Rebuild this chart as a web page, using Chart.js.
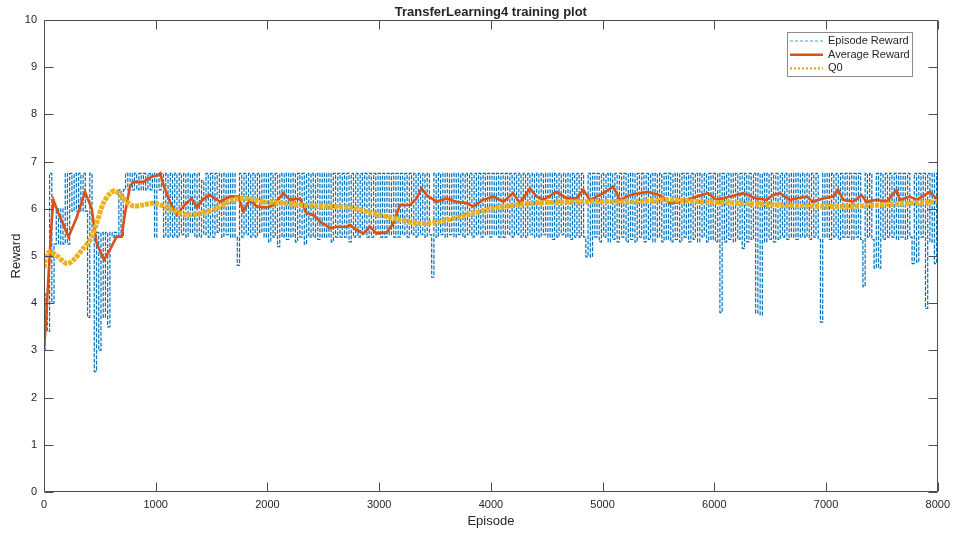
<!DOCTYPE html>
<html>
<head>
<meta charset="utf-8">
<script src="https://cdn.jsdelivr.net/npm/chart.js@4.4.1/dist/chart.umd.min.js"></script>
<style>
  html, body { margin: 0; padding: 0; background: #fff; }
</style>
</head>
<body>
<canvas id="chart" width="956" height="534"></canvas>
<script>
const chartTitle = 'TransferLearning4 training plot'
const xTitle = 'Episode'
const yTitle = 'Reward'
const seriesNames = ['Episode Reward', 'Average Reward', 'Q0']
const xTicks = [0, 1000, 2000, 3000, 4000, 5000, 6000, 7000, 8000]
const yTicks = [0, 1, 2, 3, 4, 5, 6, 7, 8, 9, 10]

// episode reward, one reading every 20 episodes (rows of 400 episodes)
const episodeStep = 20
const episodeReward = [
  3.0, 4.2, 3.4, 6.75, 4.0, 5.25, 6.0, 5.25, 6.0, 5.25, 6.75, 5.25, 6.75, 5.95, 6.75, 5.95, 6.75, 5.95, 6.75, 5.95,
  3.7, 6.75, 5.4, 2.55, 5.5, 3.0, 5.5, 3.7, 5.5, 3.5, 5.5, 5.4, 5.5, 5.4, 6.4, 5.4, 6.4, 6.75, 6.4, 6.75,
  6.4, 6.75, 6.4, 6.75, 6.4, 6.75, 6.4, 6.75, 6.4, 6.75, 5.4, 6.75, 6.4, 6.75, 5.4, 6.75, 5.4, 6.75, 5.4, 6.75,
  5.4, 6.75, 5.45, 6.75, 5.4, 6.75, 5.5, 6.75, 5.4, 6.75, 5.4, 6.6, 5.45, 6.75, 5.4, 6.75, 5.4, 6.75, 5.5, 6.75,
  5.4, 6.75, 5.45, 6.75, 5.4, 6.75, 5.4, 4.8, 6.75, 5.4, 6.75, 5.45, 6.75, 5.4, 6.75, 5.4, 6.75, 5.5, 6.75, 5.4,
  6.75, 5.3, 6.75, 5.4, 6.75, 5.2, 6.75, 5.4, 6.75, 5.35, 6.75, 5.4, 6.75, 5.3, 6.75, 5.4, 6.75, 5.25, 6.75, 5.4,
  6.75, 5.4, 6.75, 5.35, 6.75, 5.4, 6.75, 5.4, 6.75, 5.3, 6.75, 5.4, 6.75, 5.4, 6.75, 5.4, 6.75, 5.3, 6.75, 5.4,
  6.75, 5.4, 6.75, 5.45, 6.75, 5.4, 6.75, 5.4, 6.75, 5.45, 6.75, 5.4, 6.75, 5.4, 6.75, 5.45, 6.75, 5.4, 6.75, 5.4,
  6.75, 5.45, 6.75, 5.4, 6.75, 5.45, 6.75, 5.4, 6.75, 5.45, 6.75, 5.4, 6.75, 5.45, 4.55, 6.75, 5.4, 6.75, 5.45, 6.75,
  5.4, 6.75, 5.45, 6.75, 5.4, 6.75, 5.45, 6.75, 5.4, 6.75, 5.45, 6.75, 5.4, 6.75, 5.45, 6.75, 5.4, 6.75, 5.45, 6.75,
  5.4, 6.75, 5.45, 6.75, 5.4, 6.75, 5.4, 6.75, 5.45, 6.75, 5.4, 6.75, 5.45, 6.75, 5.4, 6.75, 5.4, 6.75, 5.45, 6.75,
  5.4, 6.75, 5.4, 6.75, 5.45, 6.75, 5.4, 6.75, 5.35, 6.75, 5.4, 6.75, 5.45, 6.75, 5.4, 6.75, 5.35, 6.75, 5.4, 6.75,
  5.4, 6.75, 5.4, 4.98, 6.75, 4.98, 6.75, 5.4, 6.75, 5.3, 6.75, 5.4, 6.75, 5.3, 6.75, 5.35, 6.75, 5.3, 6.75, 5.4,
  6.75, 5.3, 6.75, 5.35, 6.75, 5.3, 6.75, 5.4, 6.75, 5.3, 6.75, 5.35, 6.75, 5.3, 6.75, 5.4, 6.75, 5.3, 6.75, 5.35,
  6.75, 5.3, 6.75, 5.35, 6.75, 5.3, 6.75, 5.4, 6.75, 5.3, 6.75, 5.35, 6.75, 5.3, 6.75, 5.4, 6.75, 5.3, 6.75, 5.35,
  6.75, 5.3, 6.75, 3.8, 6.75, 5.3, 6.75, 5.35, 6.75, 5.3, 6.75, 5.35, 6.75, 5.16, 6.75, 5.3, 6.75, 5.35, 6.75, 3.79,
  6.75, 3.75, 6.75, 5.3, 6.75, 5.35, 6.75, 5.3, 6.75, 5.35, 6.75, 5.4, 6.75, 5.35, 6.75, 5.4, 6.75, 5.35, 6.75, 5.4,
  6.75, 5.4, 6.75, 5.35, 6.75, 5.4, 6.75, 5.35, 3.6, 6.75, 5.4, 6.75, 5.35, 6.75, 5.4, 6.75, 5.35, 6.75, 5.4, 6.75,
  5.4, 6.75, 5.35, 6.75, 5.4, 6.75, 5.35, 4.35, 6.75, 5.4, 6.75, 5.35, 4.74, 6.75, 4.74, 6.75, 5.35, 6.75, 5.4, 6.75,
  5.4, 6.75, 5.35, 6.75, 5.4, 6.75, 5.35, 6.75, 5.4, 4.84, 6.75, 4.87, 6.75, 5.4, 6.75, 3.89, 6.75, 5.3, 6.75, 4.84,
  6.75
]

const avgEpisodes = [
  0, 15, 48, 69, 85, 130, 220, 290, 367, 427, 471, 537, 590, 650, 695, 725, 770, 800, 890, 964,
  1010, 1040, 1070, 1127, 1187, 1247, 1321, 1367, 1420, 1485, 1575, 1664, 1739, 1784, 1843, 1903, 1993, 2053, 2142, 2202,
  2291, 2351, 2410, 2470, 2559, 2619, 2709, 2739, 2798, 2858, 2918, 2977, 3067, 3126, 3186, 3275, 3335, 3380, 3425, 3514,
  3603, 3693, 3782, 3842, 3931, 4021, 4111, 4200, 4260, 4349, 4409, 4469, 4588, 4677, 4767, 4827, 4886, 4976, 5095, 5155,
  5245, 5393, 5513, 5602, 5721, 5840, 5944, 6019, 6139, 6258, 6377, 6467, 6526, 6586, 6676, 6825, 6884, 6974, 7064, 7108,
  7153, 7243, 7317, 7362, 7452, 7541, 7631, 7660, 7750, 7810, 7929, 7988, 8000
]
const avgReward = [
  3.05, 3.5, 4.9, 5.75, 6.18, 5.9, 5.41, 5.8, 6.36, 6.0, 5.27, 4.92, 5.13, 5.41, 5.41, 5.9, 6.47, 6.57, 6.57, 6.68,
  6.7, 6.75, 6.5, 6.15, 5.87, 6.05, 6.22, 6.03, 6.2, 6.29, 6.15, 6.26, 6.26, 5.94, 6.19, 6.05, 6.03, 6.08, 6.33, 6.19,
  6.22, 5.9, 5.87, 5.73, 5.59, 5.62, 5.62, 5.66, 5.55, 5.48, 5.62, 5.48, 5.5, 5.69, 6.08, 6.08, 6.22, 6.43, 6.29, 6.15,
  6.22, 6.15, 6.12, 6.05, 6.19, 6.26, 6.15, 6.33, 6.12, 6.43, 6.26, 6.19, 6.36, 6.22, 6.22, 6.4, 6.19, 6.29, 6.47, 6.19,
  6.29, 6.36, 6.29, 6.12, 6.15, 6.26, 6.33, 6.19, 6.26, 6.33, 6.22, 6.19, 6.29, 6.33, 6.19, 6.26, 6.15, 6.22, 6.26, 6.4,
  6.19, 6.15, 6.29, 6.15, 6.19, 6.15, 6.4, 6.19, 6.26, 6.19, 6.36, 6.22, 6.25
]

const q0Episodes = [
  0, 15, 30, 54, 90, 128, 203, 262, 352, 412, 471, 531, 591, 635, 680, 740, 800, 890, 979, 1068,
  1157, 1276, 1396, 1545, 1694, 1813, 1963, 2142, 2291, 2440, 2589, 2750, 2888, 3126, 3365, 3544, 3782, 4021, 4379, 4827,
  5274, 5572, 5870, 6200, 6586, 7183, 7600, 8000
]
const q0Values = [
  4.75, 4.95, 5.05, 5.09, 5.05, 4.98, 4.84, 4.91, 5.16, 5.34, 5.69, 6.12, 6.33, 6.38, 6.3, 6.15, 6.06, 6.08, 6.12, 6.06,
  5.96, 5.87, 5.9, 6.01, 6.19, 6.22, 6.15, 6.12, 6.08, 6.06, 6.05, 6.02, 5.94, 5.8, 5.69, 5.73, 5.87, 6.01, 6.12, 6.15,
  6.15, 6.19, 6.15, 6.12, 6.08, 6.05, 6.1, 6.15
]

const colors = ['#0072BD', '#D95319', '#EDB120']
const ink = '#262626'
const font = '"Liberation Sans", Arial, sans-serif'

// MATLAB-style box with inward ticks, titles and legend inside the axes
const matlabFrame = {
  id: 'matlabFrame',
  afterDatasetsDraw(chart) {
    const { ctx, chartArea: a, scales: { x, y } } = chart
    const L = Math.round(a.left) + 0.5, R = Math.round(a.right) - 0.5
    const T = Math.round(a.top) + 0.5, B = Math.round(a.bottom) - 0.5
    const tick = 9
    ctx.save()
    ctx.strokeStyle = '#4d4d4d'
    ctx.lineWidth = 1
    ctx.beginPath()
    ctx.rect(L, T, R - L, B - T)
    xTicks.forEach(v => {
      const px = Math.round(x.getPixelForValue(v)) + 0.5
      ctx.moveTo(px, B); ctx.lineTo(px, B - tick)
      ctx.moveTo(px, T); ctx.lineTo(px, T + tick)
    })
    yTicks.forEach(v => {
      const py = Math.round(y.getPixelForValue(v)) + 0.5
      ctx.moveTo(L, py); ctx.lineTo(L + tick, py)
      ctx.moveTo(R, py); ctx.lineTo(R - tick, py)
    })
    ctx.stroke()

    ctx.fillStyle = ink
    ctx.textAlign = 'center'
    ctx.textBaseline = 'middle'
    ctx.font = 'bold 13px ' + font
    ctx.fillText(chartTitle, (a.left + a.right) / 2, 12)
    ctx.font = '13px ' + font
    ctx.fillText(xTitle, (a.left + a.right) / 2, 521)
    ctx.save()
    ctx.translate(16, (a.top + a.bottom) / 2)
    ctx.rotate(-Math.PI / 2)
    ctx.fillText(yTitle, 0, 0)
    ctx.restore()

    // legend
    const bx = 787, by = 32, bw = 125, bh = 44
    ctx.fillStyle = '#fff'
    ctx.fillRect(bx, by, bw, bh)
    ctx.strokeStyle = '#8c8c8c'
    ctx.strokeRect(bx + 0.5, by + 0.5, bw, bh)
    const dashes = [[3, 2], [], [2, 2]]
    const widths = [0.7, 2.5, 2.5]
    ctx.font = '11px ' + font
    ctx.textAlign = 'left'
    seriesNames.forEach((name, i) => {
      const ry = 41 + i * 13.7
      ctx.beginPath()
      ctx.setLineDash(dashes[i])
      ctx.strokeStyle = colors[i]
      ctx.lineWidth = widths[i]
      ctx.moveTo(790, ry); ctx.lineTo(823, ry)
      ctx.stroke()
      ctx.setLineDash([])
      ctx.fillStyle = ink
      ctx.fillText(name, 828, ry)
    })
    ctx.restore()
  }
}

new Chart(document.getElementById('chart'), {
  type: 'line',
  data: {
    datasets: [
      {
        label: seriesNames[0],
        data: episodeReward.map((v, i) => ({ x: i * episodeStep, y: v })),
        borderColor: colors[0],
        borderWidth: 1.2,
        borderDash: [4, 1.5],
        stepped: 'middle',
        pointRadius: 0,
        order: 3,
      },
      {
        label: seriesNames[1],
        data: avgEpisodes.map((e, i) => ({ x: e, y: avgReward[i] })),
        borderColor: colors[1],
        borderWidth: 2.6,
        pointRadius: 0,
        order: 2,
      },
      {
        label: seriesNames[2],
        data: q0Episodes.map((e, i) => ({ x: e, y: q0Values[i] })),
        borderColor: colors[2],
        borderWidth: 5,
        borderDash: [4, 1],
        pointRadius: 0,
        tension: 0.3,
        order: 1,
      }
    ]
  },
  options: {
    responsive: false,
    animation: false,
    devicePixelRatio: 1,
    layout: { padding: { top: 20, right: 18, bottom: 0, left: 0 } },
    plugins: {
      legend: { display: false },
      tooltip: { enabled: false },
    },
    scales: {
      x: {
        type: 'linear',
        min: 0,
        max: 8000,
        afterBuildTicks: s => { s.ticks = xTicks.map(v => ({ value: v })) },
        afterFit: s => { s.height = 42 },
        ticks: { font: { size: 11, family: font }, color: ink, padding: 6, maxRotation: 0, callback: v => String(v) },
        grid: { display: false, drawTicks: false },
        border: { display: false },
      },
      y: {
        min: 0,
        max: 10,
        afterBuildTicks: s => { s.ticks = yTicks.map(v => ({ value: v })) },
        afterFit: s => { s.width = 44 },
        ticks: { font: { size: 11, family: font }, color: ink, padding: 7, callback: v => String(v) },
        grid: { display: false, drawTicks: false },
        border: { display: false },
      }
    }
  },
  plugins: [matlabFrame]
})
</script>
</body>
</html>
